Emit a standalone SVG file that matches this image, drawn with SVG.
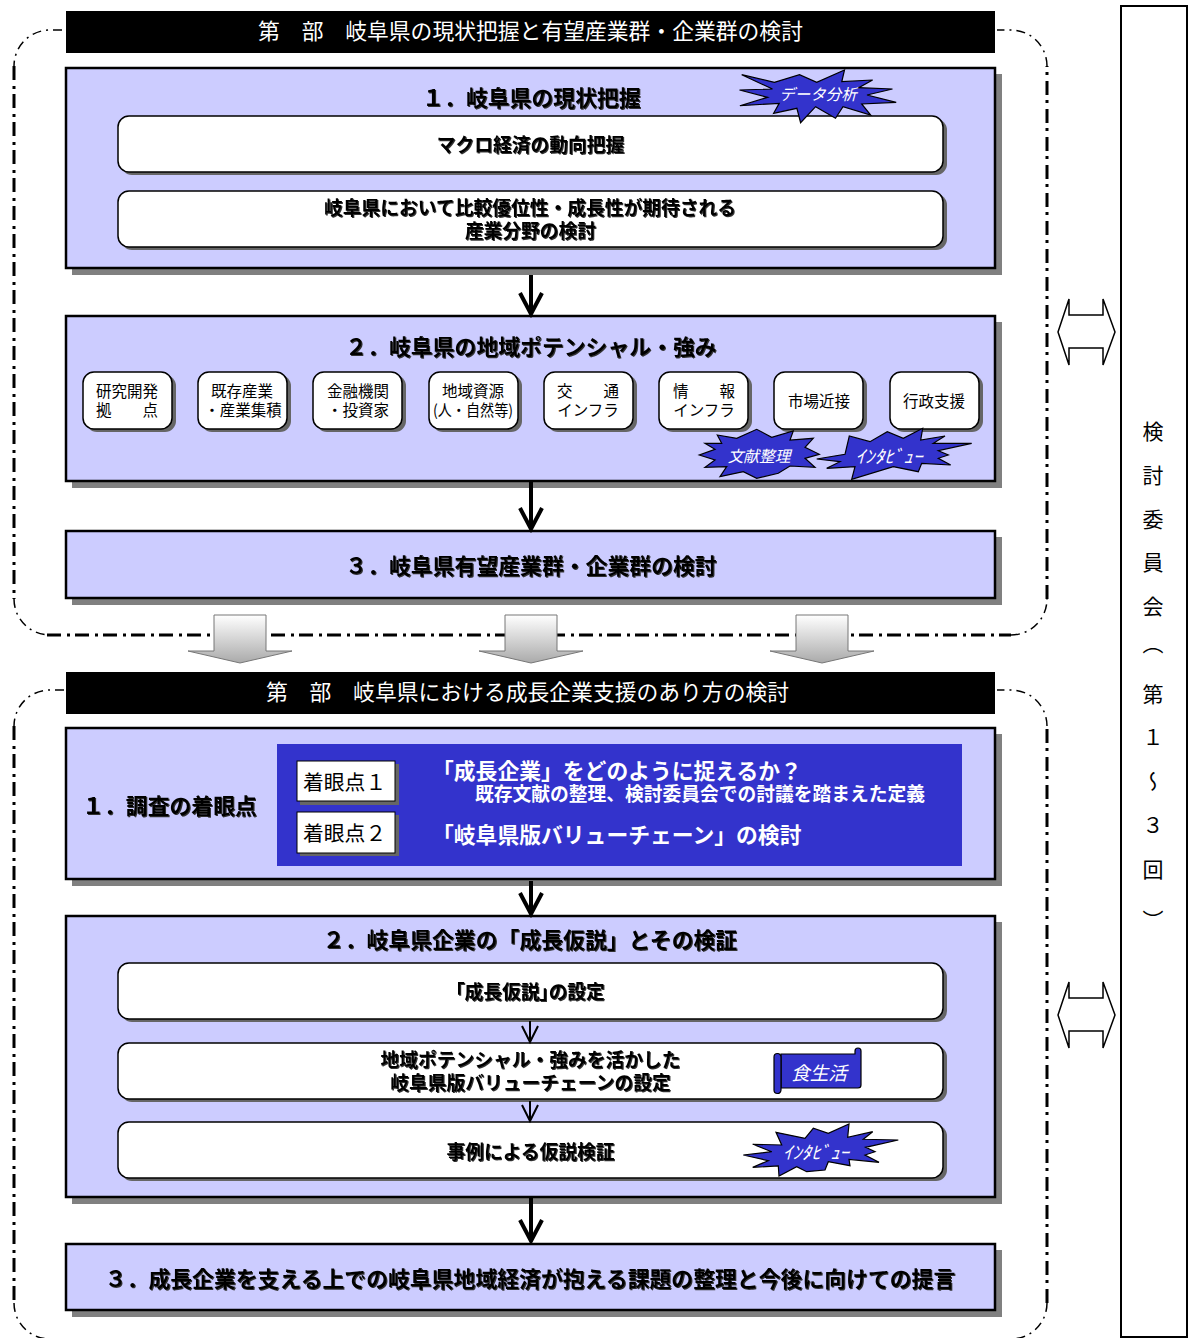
<svg xmlns="http://www.w3.org/2000/svg" width="1188" height="1338" viewBox="0 0 1188 1338">
<style>
text{font-family:"Noto Sans CJK JP","DejaVu Sans",sans-serif;fill:#000;dominant-baseline:central}
.m{text-anchor:middle}
.hd{font-size:21.8px;fill:#fff}
.t{font-size:21.85px;font-weight:700;text-anchor:middle;filter:url(#ts)}
.b{font-size:18.75px;font-weight:700;text-anchor:middle;filter:url(#ts)}
.s{font-size:15.5px}
.w{fill:#fff;font-weight:700}
.i{fill:#fff;font-style:italic;text-anchor:middle}
.p{fill:#ccf;stroke:#000;stroke-width:2.5}
.ps{fill:#808080}
.r{fill:#fff;stroke:#000;stroke-width:1.5}
.rs{fill:#666}
.d1{fill:none;stroke:#000;stroke-width:3;stroke-dasharray:14 6 3 5}
.d2{fill:none;stroke:#000;stroke-width:1.5;stroke-dasharray:9 5 2 5}
.st{fill:#33c;stroke:#000;stroke-width:1.2;stroke-linejoin:miter}
.a4{fill:none;stroke:#000;stroke-width:4}
.a2{fill:none;stroke:#000;stroke-width:2}
.da{fill:#fff;stroke:#000;stroke-width:1.5}
.ba{fill:url(#g);stroke:#777;stroke-width:1}
</style>
<defs>
<filter id="ts" x="-5%" y="-20%" width="110%" height="150%"><feDropShadow dx="1" dy="1" stdDeviation="0.3" flood-color="#333"/></filter>
<linearGradient id="g" x1="0" y1="0" x2="0" y2="1"><stop offset="0" stop-color="#fff"/><stop offset="1" stop-color="#aaa"/></linearGradient>
</defs>
<rect width="1188" height="1338" fill="#fff"/>

<g id="frame1">
<path class="d1" d="M14 66V599M47 635H1011M1047 599V66"/>
<path class="d2" d="M62 30H50A36 36 0 0 0 14 66M14 599A36 36 0 0 0 50 635M1011 635A36 36 0 0 0 1047 599M1047 66A36 36 0 0 0 1011 30H997"/>
</g>
<g id="frame2">
<path class="d1" d="M14 726V1303M1047 1303V726"/>
<path class="d2" d="M64 690H50A36 36 0 0 0 14 726M14 1303A36 36 0 0 0 50 1339M1047 1303A36 36 0 0 1 1011 1339M1047 726A36 36 0 0 0 1011 690H997"/>
</g>

<g id="committee">
<rect x="1121" y="6" width="66" height="1331" fill="#fff" stroke="#000" stroke-width="2"/>
<text x="1153" y="420.500" font-size="21" letter-spacing="22.8" style="writing-mode:vertical-rl;text-orientation:upright;dominant-baseline:auto">検討委員会<tspan dy="-7">（</tspan><tspan dy="7">第</tspan>１〜３回<tspan dy="7">）</tspan></text>
</g>

<g id="header1"><rect x="66" y="11" width="929" height="42" fill="#000"/><text class="hd m" x="530.500" y="29">第　部　岐阜県の現状把握と有望産業群・企業群の検討</text></g>

<g id="panel1-1">
<rect class="ps" x="72" y="74" width="930" height="201"/><rect class="p" x="66" y="68" width="929" height="200"/>
<text class="t" x="531.500" y="96">１．岐阜県の現状把握</text>
</g>
<g id="n-macro"><rect class="rs" x="121" y="119" width="826" height="56" rx="11"/><rect class="r" x="118" y="116" width="825" height="56" rx="11"/><text class="b" x="530.500" y="143">マクロ経済の動向把握</text></g>
<g id="n-sector"><rect class="rs" x="121" y="194" width="826" height="56" rx="11"/><rect class="r" x="118" y="191" width="825" height="56" rx="11"/><text class="b" x="530" y="206.500">岐阜県において比較優位性・成長性が期待される</text><text class="b" x="530.500" y="229.500">産業分野の検討</text></g>
<g id="star-data"><polygon class="st" points="741.7,74.7 774.4,82.3 799.5,74.7 816.7,82.3 844.5,70 841.8,81.7 872.6,80 858.7,87.7 892.5,89 867,95 896.2,102.3 861.7,104 870.7,115 843,106.7 835.5,118.3 815.6,106.7 800.6,122.7 796.9,108.3 773.6,113.3 779.2,103.3 739.9,105.7 767.6,97.3 739.5,90 772.5,89"/><text class="i" x="818" y="93" font-size="15.5">データ分析</text></g>

<g id="panel1-2">
<rect class="ps" x="72" y="322" width="930" height="166"/><rect class="p" x="66" y="316" width="929" height="165"/>
<text class="t" x="531" y="345">２．岐阜県の地域ポテンシャル・強み</text>
</g>
<g id="n-rd"><rect class="rs" x="86" y="375" width="90" height="57" rx="11"/><rect class="r" x="83" y="372" width="89" height="57" rx="11"/><text class="s m" x="127" y="390">研究開発</text><text class="s m" x="127" y="409">拠　　点</text></g>
<g id="n-ind"><rect class="rs" x="201" y="375" width="90" height="57" rx="11"/><rect class="r" x="198" y="372" width="89" height="57" rx="11"/><text class="s m" x="242" y="390">既存産業</text><text class="s m" x="243" y="409">・産業集積</text></g>
<g id="n-fin"><rect class="rs" x="316" y="375" width="90" height="57" rx="11"/><rect class="r" x="313" y="372" width="89" height="57" rx="11"/><text class="s m" x="358" y="390">金融機関</text><text class="s m" x="358" y="409">・投資家</text></g>
<g id="n-res"><rect class="rs" x="432" y="375" width="90" height="57" rx="11"/><rect class="r" x="429" y="372" width="89" height="57" rx="11"/><text class="s m" x="473" y="390">地域資源</text><text class="s m" x="473" y="409" textLength="80" lengthAdjust="spacingAndGlyphs">(人・自然等)</text></g>
<g id="n-tra"><rect class="rs" x="547" y="375" width="90" height="57" rx="11"/><rect class="r" x="544" y="372" width="89" height="57" rx="11"/><text class="s m" x="588" y="390">交　　通</text><text class="s m" x="588" y="409">インフラ</text></g>
<g id="n-inf"><rect class="rs" x="662" y="375" width="90" height="57" rx="11"/><rect class="r" x="659" y="372" width="89" height="57" rx="11"/><text class="s m" x="704" y="390">情　　報</text><text class="s m" x="704" y="409">インフラ</text></g>
<g id="n-mkt"><rect class="rs" x="777" y="375" width="90" height="57" rx="11"/><rect class="r" x="774" y="372" width="89" height="57" rx="11"/><text class="s m" x="819" y="400">市場近接</text></g>
<g id="n-gov"><rect class="rs" x="893" y="375" width="90" height="57" rx="11"/><rect class="r" x="890" y="372" width="89" height="57" rx="11"/><text class="s m" x="934" y="400">行政支援</text></g>
<g id="star-lit"><polygon class="st" points="717.3,435 736.7,438.3 756.7,429.3 771.7,437.3 793.3,431 790,440 813.3,438.3 805,447.3 819.3,454.3 805,458.3 815,467.3 790,466 778.3,473.3 756.7,478.3 743.3,471.7 720,476.7 726.7,466.7 705,467.3 715,460 699.3,455 715,449.3 705,443.3 721.7,443.3"/><text class="i" x="759" y="455" font-size="15.7">文献整理</text></g>
<g id="star-int1"><polygon class="st" points="816.7,459 845,454.3 849.3,436 870,441.7 887.3,431.7 903.3,438.3 922.7,428.3 920.7,440 945,436 933.3,443.3 971.7,443.3 938.3,450.7 948.3,455 938.3,458.3 950.7,465 921.7,463.3 918.3,471.7 893.3,466.7 851.7,479.3 855,466.7 826.7,468.3 840,461.7"/><text class="i" x="889" y="455" font-size="18" textLength="67" lengthAdjust="spacingAndGlyphs">ｲﾝﾀﾋﾞｭｰ</text></g>

<g id="panel1-3">
<rect class="ps" x="72" y="537" width="930" height="68"/><rect class="p" x="66" y="531" width="929" height="67"/>
<text class="t" x="531" y="564">３．岐阜県有望産業群・企業群の検討</text>
</g>

<g id="header2"><rect x="66" y="672" width="929" height="42" fill="#000"/><text class="hd m" x="527.500" y="690">第　部　岐阜県における成長企業支援のあり方の検討</text></g>

<g id="panel2-1">
<rect class="ps" x="72" y="734" width="930" height="152"/><rect class="p" x="66" y="728" width="929" height="151"/>
<text class="t" x="169.500" y="804.500">１．調査の着眼点</text>
<rect x="277" y="744" width="685" height="122" fill="#33c"/>
<text class="w" x="432" y="769" font-size="21.8">「成長企業」をどのように捉えるか？</text>
<text class="w" x="475" y="792" font-size="18.75">既存文献の整理、検討委員会での討議を踏まえた定義</text>
<text class="w" x="432" y="833" font-size="21.8">「岐阜県版バリューチェーン」の検討</text>
</g>
<g id="n-focus1"><rect class="rs" x="300" y="764" width="99" height="41"/><rect x="297" y="761" width="98" height="40" fill="#fff" stroke="#000" stroke-width="1"/><text x="303" y="780.500" font-size="20.800">着眼点１</text></g>
<g id="n-focus2"><rect class="rs" x="300" y="815" width="99" height="41"/><rect x="297" y="812" width="98" height="41" fill="#fff" stroke="#000" stroke-width="1"/><text x="303" y="831.500" font-size="20.800">着眼点２</text></g>

<g id="panel2-2">
<rect class="ps" x="72" y="922" width="930" height="282"/><rect class="p" x="66" y="916" width="929" height="281"/>
<text class="t" x="530" y="938">２．岐阜県企業の「成長仮説」とその検証</text>
</g>
<g id="n-hypo"><rect class="rs" x="121" y="966" width="826" height="56" rx="11"/><rect class="r" x="118" y="963" width="825" height="56" rx="11"/><text class="b" x="530" y="990" style="font-feature-settings:'palt'">「成長仮説」の設定</text></g>
<g id="n-value"><rect class="rs" x="121" y="1046" width="826" height="56" rx="11"/><rect class="r" x="118" y="1043" width="825" height="56" rx="11"/><text class="b" x="530.500" y="1058.500">地域ポテンシャル・強みを活かした</text><text class="b" x="530.500" y="1081">岐阜県版バリューチェーンの設定</text></g>
<g id="n-case"><rect class="rs" x="121" y="1125" width="826" height="56" rx="11"/><rect class="r" x="118" y="1122" width="825" height="56" rx="11"/><text class="b" x="530.500" y="1150">事例による仮説検証</text></g>
<g id="scroll-food">
<path class="st" stroke-linejoin="round" d="M781 1054H855V1051a3 3 0 0 1 6 0V1085q0 3-3 3H781Z"/>
<path class="st" d="M774 1057a3.500 3.500 0 0 1 7 0V1090a3.500 3.500 0 0 1-7 0Z"/>
<text class="i" x="819" y="1071.500" font-size="18.700">食生活</text>
</g>
<g id="star-int2"><polygon class="st" points="743.3,1155 771.7,1151.7 752.7,1144.3 781.7,1145 776,1132.3 805,1138.3 813.3,1128.3 828.3,1133.3 849,1124 847.7,1137.3 872.7,1131.7 863.3,1139.3 898.3,1140 865.7,1147.3 875,1151.7 865,1155 879,1162.3 849,1159.3 850,1165.7 828.3,1161.7 825,1170 806.7,1171.7 796.7,1166.7 779,1176 778.3,1166 752.7,1167.3 768.3,1160.7"/><text class="i" x="816" y="1151" font-size="18" textLength="66" lengthAdjust="spacingAndGlyphs">ｲﾝﾀﾋﾞｭｰ</text></g>

<g id="panel2-3">
<rect class="ps" x="72" y="1250" width="930" height="67"/><rect class="p" x="66" y="1244" width="929" height="66"/>
<text class="t" x="530" y="1277">３．成長企業を支える上での岐阜県地域経済が抱える課題の整理と今後に向けての提言</text>
</g>

<g id="connectors">
<path class="a4" d="M531 275V314M520 293L531 314L542 293"/>
<path class="a4" d="M531 482V529M520 508L531 529L542 508"/>
<path class="a4" d="M531 881V914M520 893L531 914L542 893"/>
<path class="a4" d="M531 1198V1241M520 1220L531 1241L542 1220"/>
<path class="a2" d="M530 1021V1042M522 1026L530 1042L538 1026"/>
<path class="a2" d="M530 1101V1121M522 1105L530 1121L538 1105"/>
<polygon class="ba" points="214,615 266,615 266,651 292,651 240,663 188,651 214,651"/>
<polygon class="ba" points="505,615 557,615 557,651 583,651 531,663 479,651 505,651"/>
<polygon class="ba" points="796,615 848,615 848,651 874,651 822,663 770,651 796,651"/>
<polygon class="da" points="1058,332 1069,299 1069,315 1103,315 1103,299 1115,332 1103,365 1103,348 1069,348 1069,365"/>
<polygon class="da" points="1058,1015 1069,982 1069,998 1103,998 1103,982 1115,1015 1103,1048 1103,1031 1069,1031 1069,1048"/>
</g>
</svg>
